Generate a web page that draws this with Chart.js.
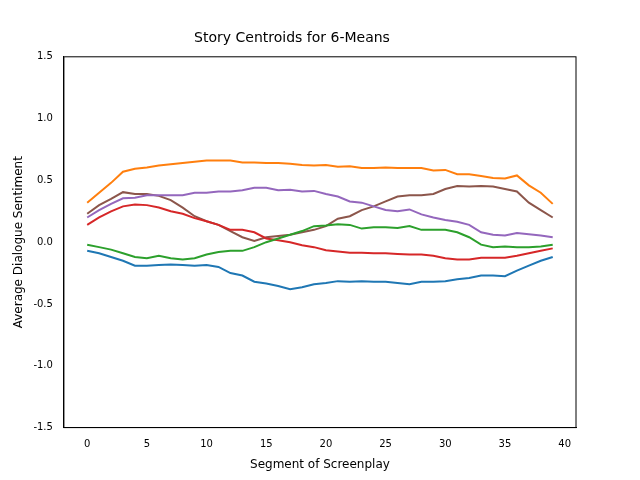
<!DOCTYPE html>
<html><head><script src="https://cdn.jsdelivr.net/npm/chart.js@4"></script>
<style>body{margin:0}</style></head>
<body><canvas id="c" width="640" height="480"></canvas>
<script>
const segments = Array.from({length: 40}, (_, i) => i);
const blue = [-0.07,-0.09,-0.12,-0.15,-0.19,-0.19,-0.185,-0.18,-0.185,-0.19,-0.185,-0.2,-0.25,-0.27,-0.32,-0.335,-0.355,-0.38,-0.365,-0.34,-0.33,-0.315,-0.32,-0.315,-0.32,-0.32,-0.33,-0.34,-0.32,-0.32,-0.315,-0.3,-0.29,-0.27,-0.27,-0.275,-0.23,-0.19,-0.15,-0.12];
const orange = [0.32,0.4,0.48,0.57,0.595,0.605,0.62,0.63,0.64,0.65,0.66,0.66,0.66,0.645,0.645,0.64,0.64,0.635,0.625,0.62,0.625,0.61,0.615,0.6,0.6,0.605,0.6,0.6,0.6,0.58,0.585,0.55,0.55,0.535,0.52,0.515,0.54,0.46,0.4,0.31];
const green = [-0.02,-0.04,-0.06,-0.09,-0.12,-0.13,-0.11,-0.13,-0.14,-0.13,-0.1,-0.08,-0.07,-0.07,-0.04,0,0.03,0.06,0.09,0.13,0.135,0.145,0.14,0.11,0.12,0.12,0.115,0.13,0.1,0.1,0.1,0.08,0.04,-0.02,-0.04,-0.035,-0.04,-0.04,-0.035,-0.02];
const red = [0.14,0.2,0.25,0.29,0.305,0.3,0.28,0.25,0.23,0.195,0.17,0.14,0.1,0.1,0.08,0.03,0.015,0,-0.025,-0.04,-0.065,-0.075,-0.085,-0.085,-0.09,-0.09,-0.095,-0.1,-0.1,-0.11,-0.13,-0.14,-0.14,-0.125,-0.125,-0.125,-0.11,-0.09,-0.07,-0.05];
const purple = [0.2,0.26,0.31,0.355,0.36,0.38,0.38,0.38,0.38,0.4,0.4,0.41,0.41,0.42,0.44,0.44,0.42,0.425,0.41,0.415,0.39,0.37,0.33,0.32,0.29,0.26,0.25,0.265,0.225,0.2,0.18,0.165,0.14,0.08,0.06,0.055,0.075,0.065,0.055,0.04];
const brown = [0.23,0.3,0.35,0.405,0.39,0.39,0.375,0.34,0.28,0.21,0.17,0.14,0.09,0.04,0.01,0.04,0.05,0.06,0.08,0.1,0.13,0.19,0.21,0.26,0.29,0.33,0.37,0.38,0.38,0.39,0.43,0.455,0.45,0.455,0.45,0.43,0.41,0.32,0.26,0.2];

const series = [blue, orange, green, red, purple, brown];
const colors = ['#1f77b4','#ff7f0e','#2ca02c','#d62728','#9467bd','#8c564b'];
const font = {family: 'DejaVu Sans', size: 12};
const ax = {grid: {display: false}, border: {color: '#000'}, ticks: {color: '#000', font: {family: 'DejaVu Sans', size: 10}}, title: {display: true, color: '#000', font}};

new Chart(document.getElementById('c'), {
  type: 'line',
  data: {
    datasets: series.map((s, k) => ({
      data: s.map((v, i) => ({x: segments[i], y: v})),
      borderColor: colors[k], borderWidth: 2, pointRadius: 0, tension: 0
    }))
  },
  options: {
    animation: false, responsive: false, events: [],
    layout: {padding: {top: 6, right: 64, left: 8, bottom: 4}},
    plugins: {legend: {display: false}, tooltip: {enabled: false},
      title: {display: true, text: 'Story Centroids for 6-Means', color: '#000', font: {family: 'DejaVu Sans', size: 14, weight: 'normal'}, padding: {top: 24, bottom: 10}}},
    scales: {
      x: {...ax, type: 'linear', min: -1.95, max: 40.95, afterBuildTicks: a => { a.ticks = [0,5,10,15,20,25,30,35,40].map(v => ({value: v})); },
        title: {...ax.title, text: 'Segment of Screenplay'}},
      y: {...ax, min: -1.5, max: 1.5, ticks: {...ax.ticks, stepSize: 0.5, callback: v => v.toFixed(1)},
        title: {...ax.title, text: 'Average Dialogue Sentiment'}}
    }
  },
  plugins: [{id: 'box', afterDraw(c) { const a = c.chartArea, g = c.ctx; g.save(); g.strokeStyle = '#000'; g.lineWidth = 1; g.strokeRect(a.left, a.top, a.right - a.left, a.bottom - a.top); g.restore(); }}]
});
</script></body></html>
